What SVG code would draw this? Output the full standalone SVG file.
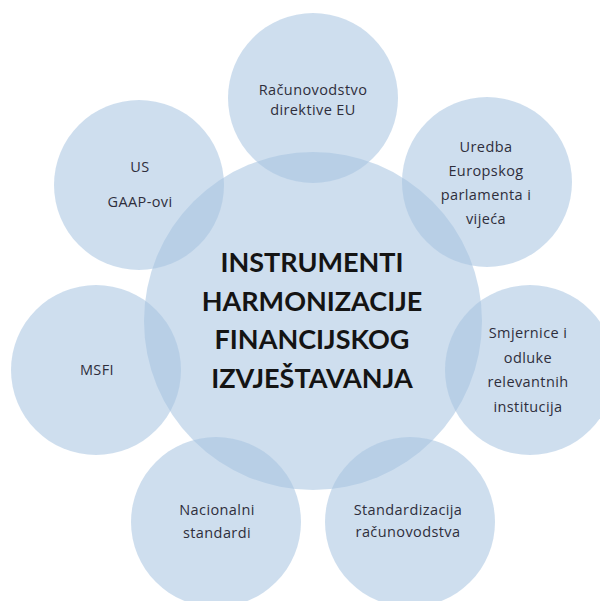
<svg xmlns="http://www.w3.org/2000/svg" width="600" height="601" viewBox="0 0 600 601">
<style>
.c{fill:#a6c2e0;fill-opacity:0.55}
.t{font-family:"Open Sans","Noto Sans","Liberation Sans",sans-serif;font-size:14.5px;letter-spacing:0.4px;fill:#2e2e3c;text-anchor:middle}
.h{font-family:Lato,"Liberation Sans",sans-serif;font-size:27px;font-weight:bold;fill:#141414;text-anchor:middle}
</style>
<rect width="600" height="601" fill="#ffffff"/>
<g id="connectors"></g>
<g id="center">
<circle class="c" cx="313" cy="321" r="169"/>
</g>
<g id="n1"><circle class="c" cx="313" cy="98" r="85"/>
<text class="t" x="313" y="95">Računovodstvo</text><text class="t" x="313" y="115">direktive EU</text></g>
<g id="n2"><circle class="c" cx="487" cy="182" r="85"/>
<text class="t" x="486" y="152">Uredba</text><text class="t" x="486" y="176">Europskog</text><text class="t" x="486" y="200">parlamenta i</text><text class="t" x="486" y="224">vijeća</text></g>
<g id="n3"><circle class="c" cx="530" cy="370" r="85"/>
<text class="t" x="528" y="338">Smjernice i</text><text class="t" x="528" y="363">odluke</text><text class="t" x="528" y="387">relevantnih</text><text class="t" x="528" y="412">institucija</text></g>
<g id="n4"><circle class="c" cx="410" cy="522" r="85"/>
<text class="t" x="408" y="515">Standardizacija</text><text class="t" x="408" y="537">računovodstva</text></g>
<g id="n5"><circle class="c" cx="216" cy="522" r="85"/>
<text class="t" x="217" y="515">Nacionalni</text><text class="t" x="217" y="538">standardi</text></g>
<g id="n6"><circle class="c" cx="96" cy="370" r="85"/>
<text class="t" x="97" y="375">MSFI</text></g>
<g id="n7"><circle class="c" cx="139" cy="185" r="85"/>
<text class="t" x="140" y="172">US</text><text class="t" x="140" y="207">GAAP-ovi</text></g>
<g id="title">
<text class="h" x="312" y="272">INSTRUMENTI</text>
<text class="h" x="312" y="310.5">HARMONIZACIJE</text>
<text class="h" x="312" y="349">FINANCIJSKOG</text>
<text class="h" x="312" y="387.5">IZVJEŠTAVANJA</text>
</g>
</svg>
